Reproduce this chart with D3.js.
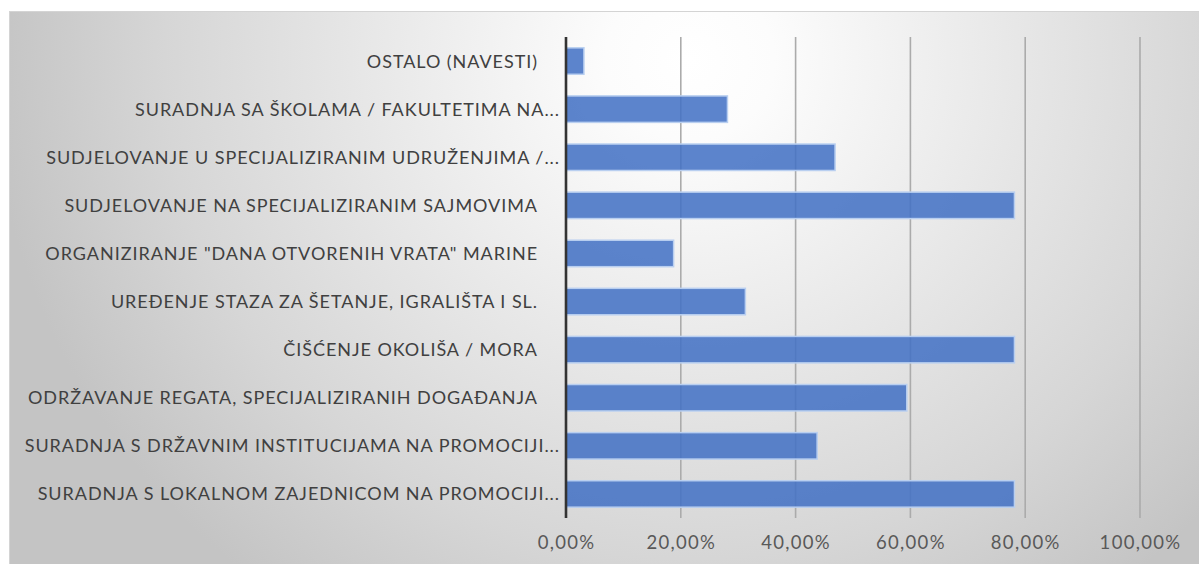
<!DOCTYPE html>
<html>
<head>
<meta charset="utf-8">
<script src="https://cdn.jsdelivr.net/npm/d3@7"></script>
<style>
  html, body { margin: 0; padding: 0; background: #ffffff; }
  svg { display: block; }
  text { font-family: Lato, "Open Sans", sans-serif; }
</style>
</head>
<body>
<svg id="chart" width="1199" height="564"></svg>
<script>
// Activities, listed top to bottom as shown on the chart
const categories = [
  "OSTALO (NAVESTI)",
  "SURADNJA SA ŠKOLAMA / FAKULTETIMA NA...",
  "SUDJELOVANJE U SPECIJALIZIRANIM UDRUŽENJIMA /...",
  "SUDJELOVANJE NA SPECIJALIZIRANIM SAJMOVIMA",
  "ORGANIZIRANJE \"DANA OTVORENIH VRATA\" MARINE",
  "UREĐENJE STAZA ZA ŠETANJE, IGRALIŠTA I SL.",
  "ČIŠĆENJE OKOLIŠA / MORA",
  "ODRŽAVANJE REGATA, SPECIJALIZIRANIH DOGAĐANJA",
  "SURADNJA S DRŽAVNIM INSTITUCIJAMA NA PROMOCIJI...",
  "SURADNJA S LOKALNOM ZAJEDNICOM NA PROMOCIJI..."
];

// Share of respondents (fraction) for each activity
const values = [0.03125, 0.28125, 0.46875, 0.78125, 0.1875, 0.3125, 0.78125, 0.59375, 0.4375, 0.78125];

// Value axis ticks
const tickValues = [0, 0.2, 0.4, 0.6, 0.8, 1.0];
const tickLabels = ["0,00%", "20,00%", "40,00%", "60,00%", "80,00%", "100,00%"];

const data = categories.map((c, i) => ({ category: c, value: values[i] }));

const svg = d3.select("#chart");
const W = 1199, H = 564;

// Plot area
const plot = { left: 566, right: 1140, top: 37, bottom: 518 };

// Background: framed panel with a soft radial grey gradient
const defs = svg.append("defs");
const grad = defs.append("radialGradient")
  .attr("id", "bgGrad")
  .attr("gradientUnits", "userSpaceOnUse")
  .attr("cx", 690).attr("cy", 60).attr("r", 700)
  .attr("gradientTransform", "translate(690,60) scale(1,0.95) translate(-690,-60)");
grad.append("stop").attr("offset", "0").attr("stop-color", "#ffffff");
grad.append("stop").attr("offset", "0.12").attr("stop-color", "#fcfcfc");
grad.append("stop").attr("offset", "0.75").attr("stop-color", "#d6d6d6");
grad.append("stop").attr("offset", "1").attr("stop-color", "#c4c4c4");

svg.append("rect")
  .attr("x", 9.5).attr("y", 11.5)
  .attr("width", W).attr("height", H)
  .attr("fill", "url(#bgGrad)")
  .attr("stroke", "#d4d4d4")
  .attr("stroke-width", 1);

const x = d3.scaleLinear().domain([0, 1]).range([plot.left, plot.right]);
const y = d3.scaleBand()
  .domain(categories)
  .range([plot.top, plot.bottom])
  .paddingInner(0.45)
  .paddingOuter(0.225);

// Vertical gridlines
svg.append("g")
  .selectAll("line")
  .data(tickValues.slice(1))
  .join("line")
  .attr("x1", d => x(d)).attr("x2", d => x(d))
  .attr("y1", plot.top).attr("y2", plot.bottom)
  .attr("stroke", "#ababab")
  .attr("stroke-width", 1.6);

// Bars
svg.append("g")
  .selectAll("rect")
  .data(data)
  .join("rect")
  .attr("x", x(0))
  .attr("y", d => y(d.category))
  .attr("width", d => x(d.value) - x(0))
  .attr("height", y.bandwidth())
  .attr("fill", "#4472c4")
  .attr("fill-opacity", 0.87)
  .attr("stroke", "#b9cff0")
  .attr("stroke-width", 1.5);

// Category axis line at zero
svg.append("line")
  .attr("x1", x(0)).attr("x2", x(0))
  .attr("y1", plot.top).attr("y2", plot.bottom)
  .attr("stroke", "#333333")
  .attr("stroke-width", 2.6);

// Category labels (truncated labels sit closer to the axis)
svg.append("g")
  .selectAll("text")
  .data(data)
  .join("text")
  .attr("x", d => d.category.endsWith("...") ? x(0) - 6 : x(0) - 28)
  .attr("y", d => y(d.category) + y.bandwidth() / 2)
  .attr("dy", "0.36em")
  .attr("text-anchor", "end")
  .attr("fill", "#404040")
  .attr("font-size", 18)
  .attr("letter-spacing", 0.95)
  .text(d => d.category);

// Value axis labels
const xAxis = d3.axisBottom(x)
  .tickValues(tickValues)
  .tickFormat((d, i) => tickLabels[i])
  .tickSize(0)
  .tickPadding(0);

const axisG = svg.append("g")
  .attr("transform", `translate(0, ${plot.bottom + 18})`)
  .call(xAxis);
axisG.select(".domain").remove();
axisG.selectAll("text")
  .attr("fill", "#595959")
  .attr("font-size", 18.5)
  .attr("letter-spacing", 1.3)
  .attr("font-family", "Lato, 'Open Sans', sans-serif");
</script>
</body>
</html>
